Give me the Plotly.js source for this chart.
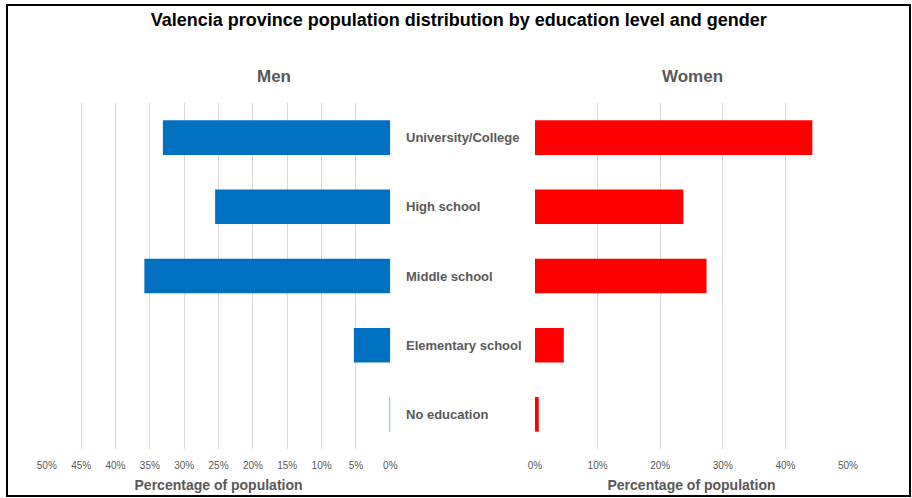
<!DOCTYPE html>
<html>
<head>
<meta charset="utf-8">
<script src="https://cdn.plot.ly/plotly-3.0.1.min.js"></script>
<style>html,body{margin:0;padding:0;background:#fff;}#chart{width:912px;height:498px;}</style>
</head>
<body>
<div id="chart"></div>
<script>
const categories = ["University/College", "High school", "Middle school", "Elementary school", "No education"];
const menValues = [33.1, 25.5, 35.8, 5.3, 0.1];
const womenValues = [44.3, 23.7, 27.4, 4.6, 0.6];
const chartTitle = "Valencia province population distribution by education level and gender";
const panelTitles = ["Men", "Women"];
const axisTitle = "Percentage of population";

const W = 912, H = 498;
const px = v => v / W;
const py = v => 1 - v / H;
const FONT = "Liberation Sans, Arial, sans-serif";
const GRAY = "#595959";

const traces = [
  {type: "bar", orientation: "h", y: categories, x: menValues, xaxis: "x", yaxis: "y",
   marker: {color: "#0070C0", line: {width: 0}}, width: 0.5, hoverinfo: "x+y"},
  {type: "bar", orientation: "h", y: categories, x: womenValues, xaxis: "x2", yaxis: "y2",
   marker: {color: "#FF0000", line: {width: 0}}, width: 0.5, hoverinfo: "x+y"}
];

const yDomain = [py(449), py(103)];
const axisCommon = {
  showgrid: true, gridcolor: "#d9d9d9", gridwidth: 1, zeroline: false, showline: false,
  ticks: "", ticksuffix: "%", tickfont: {family: FONT, size: 10, color: GRAY},
  ticklabelstandoff: 9, fixedrange: true
};

const layout = {
  width: W, height: H,
  margin: {l: 0, r: 0, t: 0, b: 0},
  paper_bgcolor: "#fff", plot_bgcolor: "#fff",
  showlegend: false,
  title: {text: "<b>" + chartTitle + "</b>", x: 0.503, xanchor: "center", y: py(20), yanchor: "middle", yref: "paper",
          font: {family: FONT, size: 18, color: "#000"}},
  xaxis: Object.assign({}, axisCommon, {domain: [px(46.8), px(390.3)], range: [50, 0], dtick: 5, anchor: "y",
          title: {text: "<b>" + axisTitle + "</b>", font: {family: FONT, size: 14, color: GRAY}, standoff: 10}}),
  xaxis2: Object.assign({}, axisCommon, {domain: [px(535), px(848)], range: [0, 50], dtick: 10, anchor: "y2",
          title: {text: "<b>" + axisTitle + "</b>", font: {family: FONT, size: 14, color: GRAY}, standoff: 10}}),
  yaxis: {domain: yDomain, type: "category", categoryorder: "array", categoryarray: categories, autorange: "reversed",
          showticklabels: false, showgrid: false, zeroline: false, ticks: "", anchor: "x", fixedrange: true},
  yaxis2: {domain: yDomain, type: "category", categoryorder: "array", categoryarray: categories, autorange: "reversed",
          showticklabels: false, showgrid: false, zeroline: false, ticks: "", anchor: "x2", fixedrange: true},
  annotations: [
    {text: "<b>" + panelTitles[0] + "</b>", xref: "paper", yref: "paper", x: px(274), y: py(76), showarrow: false,
     xanchor: "center", yanchor: "middle", font: {family: FONT, size: 17, color: GRAY}},
    {text: "<b>" + panelTitles[1] + "</b>", xref: "paper", yref: "paper", x: px(692), y: py(76), showarrow: false,
     xanchor: "center", yanchor: "middle", font: {family: FONT, size: 17, color: GRAY}}
  ].concat(categories.map(c => ({
    text: "<b>" + c + "</b>", xref: "paper", yref: "y", x: px(404), y: c, showarrow: false,
    xanchor: "left", yanchor: "middle", font: {family: FONT, size: 13, color: GRAY}
  }))),
  shapes: [
    {type: "rect", xref: "paper", yref: "paper", x0: px(7), x1: px(910), y0: py(496), y1: py(5),
     line: {color: "#000", width: 2}, fillcolor: "rgba(0,0,0,0)", layer: "above"}
  ]
};

Plotly.newPlot("chart", traces, layout, {displayModeBar: false, staticPlot: true});
</script>
</body>
</html>
